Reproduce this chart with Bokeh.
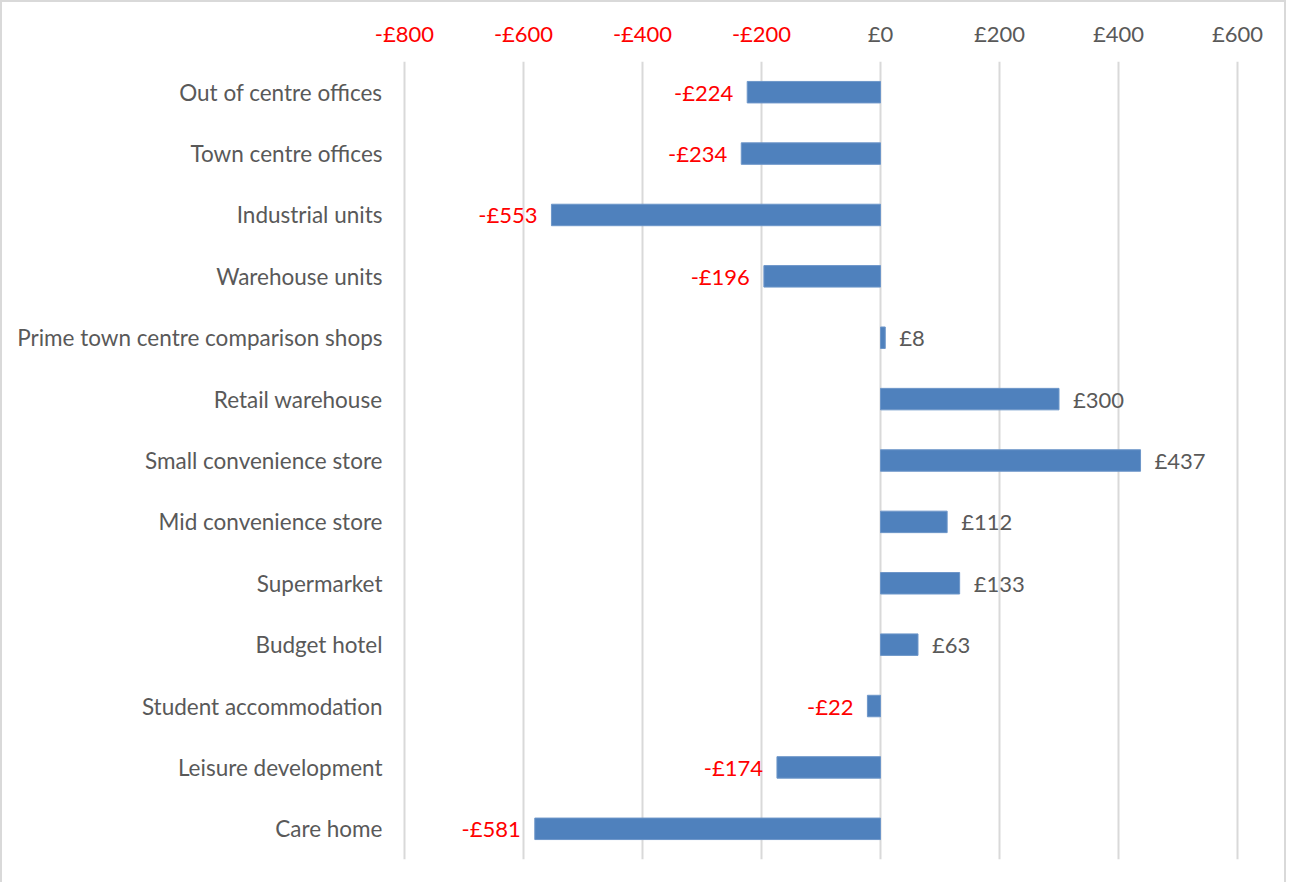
from bokeh.plotting import figure
from bokeh.layouts import column
from bokeh.models import ColumnDataSource, FixedTicker, Range1d, FactorRange
from bokeh.core.properties import value
from bokeh.embed import file_html
from bokeh.resources import INLINE

categories = ["Out of centre offices", "Town centre offices", "Industrial units",
              "Warehouse units", "Prime town centre comparison shops", "Retail warehouse",
              "Small convenience store", "Mid convenience store", "Supermarket",
              "Budget hotel", "Student accommodation", "Leisure development", "Care home"]
values = [-224, -234, -553, -196, 8, 300, 437, 112, 133, 63, -22, -174, -581]
tick_values = [-800, -600, -400, -200, 0, 200, 400, 600]
tick_labels = ["-£800", "-£600", "-£400", "-£200", "£0", "£200", "£400", "£600"]

FONT = "Lato"
GRAY = "#595959"
RED = "#FF0000"
BORDER = "2px solid #d9d9d9"

W = 1286                # content width
X0, X1 = -805, 605      # x range
ML, MR = 399, 48        # frame borders (px)
TOP_H = 61
MAIN_H = 821
MB = 23

# ---- main chart
p = figure(width=W, height=MAIN_H, output_backend="svg", toolbar_location=None,
           y_range=FactorRange(*reversed(categories)),
           x_range=Range1d(X0, X1),
           x_axis_location=None,
           min_border_left=ML, min_border_right=MR, min_border_top=0, min_border_bottom=MB)
p.styles = {"border-left": BORDER, "border-right": BORDER}
p.frame_align = False
p.outline_line_color = None
p.y_range.range_padding = 0
p.y_range.factor_padding = 0

src = ColumnDataSource(dict(cat=categories, val=values))
p.hbar(y="cat", right="val", left=0, height=0.35, source=src,
       fill_color="#4F81BD", line_color="#6D96C9", line_width=1)

ya = p.yaxis[0]
ya.axis_line_color = None
ya.major_tick_line_color = None
ya.minor_tick_line_color = None
ya.major_label_text_font = FONT
ya.major_label_text_font_size = "22.5px"
ya.major_label_text_color = GRAY
ya.major_label_standoff = 13

p.xgrid.ticker = FixedTicker(ticks=tick_values)
p.xgrid.grid_line_color = "#d9d9d9"
p.xgrid.grid_line_width = 2
p.ygrid.grid_line_color = None

# data labels
neg_c = [c for c, v in zip(categories, values) if v < 0]
neg_v = [v for v in values if v < 0]
pos_c = [c for c, v in zip(categories, values) if v >= 0]
pos_v = [v for v in values if v >= 0]
nsrc = ColumnDataSource(dict(cat=neg_c, val=neg_v, t=[f"-£{abs(v)}" for v in neg_v]))
psrc = ColumnDataSource(dict(cat=pos_c, val=pos_v, t=[f"£{v}" for v in pos_v]))
p.text(x="val", y="cat", text="t", source=nsrc, x_offset=-14, text_align="right",
       text_baseline="middle", text_font=value(FONT), text_font_size="22px", text_color=RED)
p.text(x="val", y="cat", text="t", source=psrc, x_offset=14, text_align="left",
       text_baseline="middle", text_font=value(FONT), text_font_size="22px", text_color=GRAY)

# ---- top strip holding the value-axis labels (same pixel mapping as main chart)
upp = (X1 - X0) / (W - ML - MR)
t = figure(width=W, height=TOP_H, output_backend="svg", toolbar_location=None,
           x_range=Range1d(X0 - ML * upp, X1 + MR * upp), y_range=Range1d(TOP_H, 0),
           x_axis_location=None, y_axis_location=None,
           min_border_left=0, min_border_right=0, min_border_top=0, min_border_bottom=0)
t.styles = {"border-top": BORDER, "border-left": BORDER, "border-right": BORDER}
t.frame_align = False
t.outline_line_color = None
t.xgrid.grid_line_color = None
t.ygrid.grid_line_color = None
tsrc = ColumnDataSource(dict(x=tick_values, y=[31] * len(tick_values), t=tick_labels,
                             c=[RED if v < 0 else GRAY for v in tick_values]))
t.text(x="x", y="y", text="t", source=tsrc, text_align="center", text_baseline="middle",
       text_font=value(FONT), text_font_size="22px", text_color="c")

layout = column(t, p, spacing=0)
open("out.html", "w").write(file_html(layout, INLINE))
